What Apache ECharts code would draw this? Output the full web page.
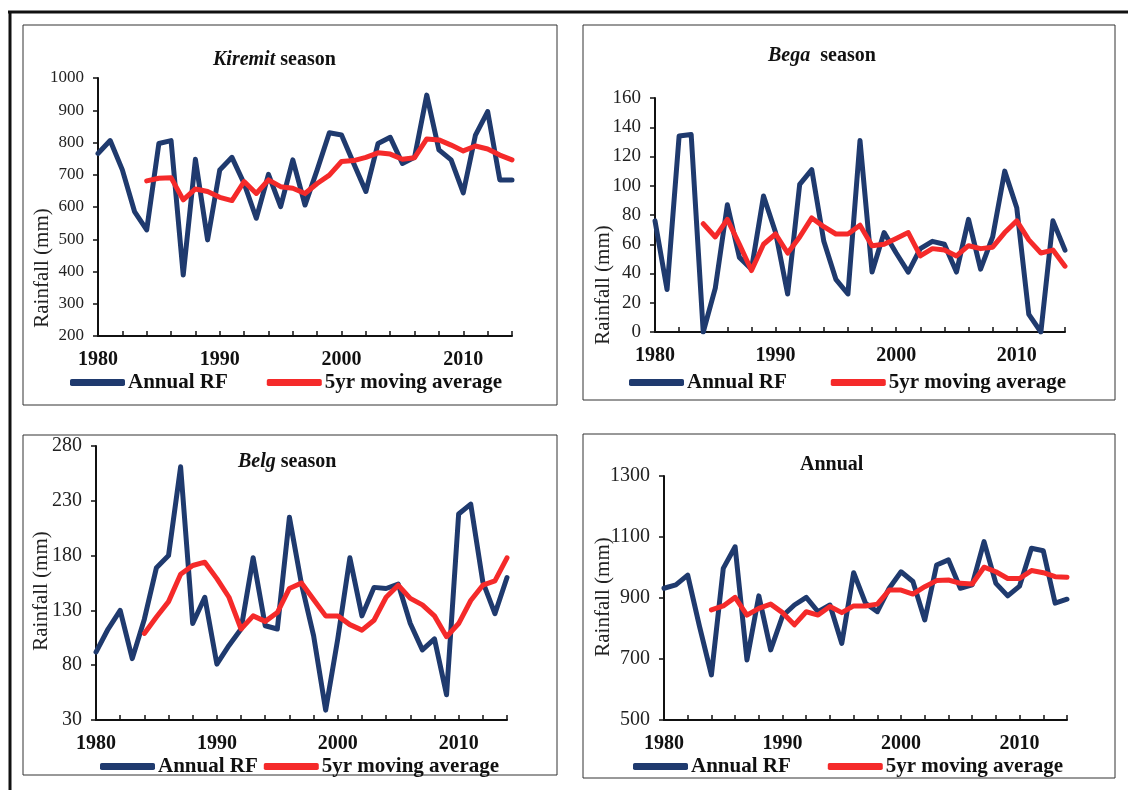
<!DOCTYPE html>
<html>
<head>
<meta charset="utf-8">
<title>Rainfall</title>
<script src="https://cdn.jsdelivr.net/npm/echarts@6/dist/echarts.min.js"></script>
<style>
  html, body { margin: 0; padding: 0; background: #fff; }
  #chart { width: 1128px; height: 790px; }
</style>
</head>
<body>
<div id="chart"></div>
<script>
const years = ['1980', '1981', '1982', '1983', '1984', '1985', '1986', '1987', '1988', '1989',
  '1990', '1991', '1992', '1993', '1994', '1995', '1996', '1997', '1998', '1999',
  '2000', '2001', '2002', '2003', '2004', '2005', '2006', '2007', '2008', '2009',
  '2010', '2011', '2012', '2013', '2014'];

const legendNames = ['Annual RF', '5yr moving average'];

// Kiremit season (mm)
const kiremitRF = [766, 806, 715, 586, 529, 797, 806, 389, 748, 498,
  715, 754, 673, 565, 701, 601, 746, 606, 715, 830,
  823, 735, 648, 797, 816, 735, 754, 947, 777, 746,
  644, 823, 896, 684, 684];
const kiremitMA = [null, null, null, null, 681, 689, 691, 622, 656, 648,
  630, 620, 679, 642, 684, 663, 658, 642, 673, 699,
  741, 744, 754, 768, 764, 748, 753, 811, 808, 792,
  774, 789, 780, 761, 746];

// Bega season (mm)
const begaRF = [76, 29, 134, 135, 0, 30, 87, 51, 43, 93,
  68, 26, 101, 111, 62, 36, 26, 131, 41, 68,
  54, 41, 57, 62, 60, 41, 77, 43, 65, 110,
  85, 12, 0, 76, 56];
const begaMA = [null, null, null, null, 74, 65, 77, 60, 42, 60,
  67, 54, 65, 78, 72, 67, 67, 73, 59, 60,
  64, 68, 52, 57, 56, 52, 59, 57, 58, 68,
  76, 63, 54, 56, 45];

// Belg season (mm)
const belgRF = [92, 113, 130, 86, 122, 169, 180, 261, 118, 142,
  81, 98, 113, 178, 116, 113, 215, 154, 107, 39,
  104, 178, 125, 151, 150, 154, 118, 94, 104, 53,
  218, 227, 156, 127, 160];
const belgMA = [null, null, null, null, 109, 124, 138, 163, 171, 174,
  159, 142, 113, 125, 120, 128, 150, 155, 140, 125,
  125, 117, 112, 121, 142, 153, 141, 135, 125, 106,
  118, 139, 153, 157, 178];

// Annual (mm)
const annualRF = [932, 943, 975, 806, 648, 997, 1068, 697, 907, 730,
  841, 877, 902, 855, 877, 751, 983, 883, 855, 932,
  986, 954, 828, 1008, 1025, 932, 943, 1085, 948, 907,
  939, 1063, 1055, 883, 896];
const annualMA = [null, null, null, null, 861, 874, 902, 844, 866, 880,
  852, 812, 855, 844, 872, 852, 874, 874, 880, 926,
  926, 913, 937, 957, 959, 948, 946, 1001, 986, 964,
  964, 990, 983, 970, 968];

const FONT = 'Liberation Serif, Times New Roman, serif';
const BLUE = '#1f3a6e';
const RED = '#f52a2a';

const panels = [
  {
    rf: kiremitRF, ma: kiremitMA, min: 200, max: 1000, interval: 100,
    grid: { left: 98, top: 78, width: 414, height: 258 },
    title: { text: '{i|Kiremit} season', left: 213, top: 50 },
    legend: { left: 70, top: 372, itemGap: 39 },
    yName: { x: 42, y: 268 },
    box: { x: 23, y: 25, width: 534, height: 380 },
    yFont: 17,
  },
  {
    rf: begaRF, ma: begaMA, min: 0, max: 160, interval: 20,
    grid: { left: 655, top: 98, width: 410, height: 234 },
    title: { text: '{i|Bega}  season', left: 768, top: 46 },
    legend: { left: 629, top: 372, itemGap: 44 },
    yName: { x: 603, y: 285 },
    box: { x: 583, y: 25, width: 532, height: 375 },
    yFont: 19,
  },
  {
    rf: belgRF, ma: belgMA, min: 30, max: 280, interval: 50,
    grid: { left: 96, top: 446, width: 411, height: 274 },
    title: { text: '{i|Belg} season', left: 238, top: 452 },
    legend: { left: 100, top: 756, itemGap: 6 },
    yName: { x: 41, y: 591 },
    box: { x: 23, y: 435, width: 534, height: 340 },
    yFont: 20,
  },
  {
    rf: annualRF, ma: annualMA, min: 500, max: 1300, interval: 200,
    grid: { left: 664, top: 476, width: 403, height: 244 },
    title: { text: 'Annual', left: 800, top: 455 },
    legend: { left: 633, top: 756, itemGap: 37 },
    yName: { x: 603, y: 597 },
    box: { x: 583, y: 434, width: 532, height: 344 },
    yFont: 20,
  },
];

const option = {
  backgroundColor: '#fff',
  animation: false,
  title: [],
  legend: [],
  grid: [],
  xAxis: [],
  yAxis: [],
  series: [],
  graphic: [
    // outer table borders
    { type: 'line', shape: { x1: 8, y1: 12, x2: 1128, y2: 12 }, style: { stroke: '#111', lineWidth: 3 } },
    { type: 'line', shape: { x1: 10, y1: 12, x2: 10, y2: 790 }, style: { stroke: '#111', lineWidth: 3 } },
  ],
};

panels.forEach((p, i) => {
  option.grid.push(Object.assign({ containLabel: false }, p.grid));
  option.title.push({
    text: p.title.text,
    left: p.title.left,
    top: p.title.top,
    padding: 0,
    textStyle: {
      fontFamily: FONT,
      fontSize: 20,
      fontWeight: 'bold',
      color: '#111',
      rich: {
        i: { fontFamily: FONT, fontSize: 20, fontWeight: 'bold', fontStyle: 'italic', color: '#111' },
      },
    },
  });
  option.legend.push({
    data: legendNames,
    left: p.legend.left,
    top: p.legend.top,
    padding: 0,
    itemGap: p.legend.itemGap,
    itemWidth: 55,
    itemHeight: 7,
    icon: 'roundRect',
    selectedMode: false,
    textStyle: { fontFamily: FONT, fontSize: 21, fontWeight: 'bold', color: '#111', padding: [0, 0, 0, -2] },
  });
  option.xAxis.push({
    type: 'category',
    gridIndex: i,
    data: years,
    boundaryGap: false,
    axisLine: { lineStyle: { color: '#111', width: 2 } },
    axisTick: {
      inside: true,
      length: 5,
      interval: (idx) => idx % 2 === 0,
      lineStyle: { color: '#111', width: 1.5 },
    },
    axisLabel: {
      interval: (idx) => idx % 10 === 0,
      fontFamily: FONT,
      fontSize: 20,
      fontWeight: 'bold',
      color: '#111',
      margin: 14,
    },
    splitLine: { show: false },
  });
  option.yAxis.push({
    type: 'value',
    gridIndex: i,
    min: p.min,
    max: p.max,
    interval: p.interval,
    axisLine: { show: true, lineStyle: { color: '#111', width: 2 } },
    axisTick: { show: true, length: 5, lineStyle: { color: '#111', width: 1.5 } },
    axisLabel: {
      fontFamily: FONT,
      fontSize: p.yFont,
      color: '#222',
      margin: 14,
      formatter: (v) => String(v),
    },
    splitLine: { show: false },
  });
  option.series.push({
    name: legendNames[0],
    type: 'line',
    xAxisIndex: i,
    yAxisIndex: i,
    data: p.rf,
    symbol: 'none',
    color: BLUE,
    lineStyle: { width: 5, color: BLUE, cap: 'round', join: 'round' },
    z: 2,
  });
  option.series.push({
    name: legendNames[1],
    type: 'line',
    xAxisIndex: i,
    yAxisIndex: i,
    data: p.ma,
    symbol: 'none',
    color: RED,
    lineStyle: { width: 5, color: RED, cap: 'round', join: 'round' },
    z: 3,
  });
  option.graphic.push({
    type: 'rect',
    z: -1,
    shape: p.box,
    style: { fill: 'none', stroke: '#333', lineWidth: 1 },
  });
  option.graphic.push({
    type: 'text',
    x: p.yName.x,
    y: p.yName.y,
    rotation: Math.PI / 2,
    style: {
      text: 'Rainfall (mm)',
      font: '21px ' + FONT,
      fill: '#222',
      align: 'center',
      verticalAlign: 'middle',
    },
  });
});

const chart = echarts.init(document.getElementById('chart'));
chart.setOption(option);
</script>
</body>
</html>
